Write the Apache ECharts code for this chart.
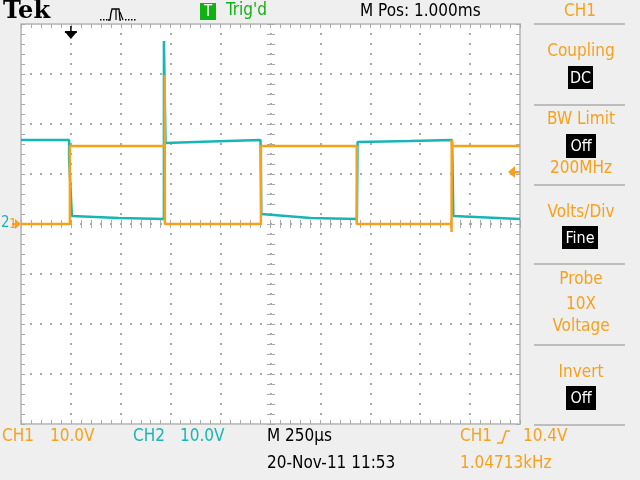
<!DOCTYPE html>
<html><head><meta charset="utf-8">
<script src="https://cdn.jsdelivr.net/npm/echarts@6/dist/echarts.min.js"></script>
<style>html,body{margin:0;padding:0;background:#efefef}#c{width:640px;height:480px}</style>
</head><body><div id="c"></div>
<script>
// Time in microseconds relative to trigger, voltage in volts
const ch1Time = [-250, -5, -5, 470, 470, 471, 952, 952, 1432, 1432, 1907, 1907, 1908, 1911, 2250];
const ch1Volt = [0, 0, 15.6, 15.6, 29.8, 0, 0, 15.6, 15.6, 0, 0, -1.6, 16.8, 15.6, 15.6];
const ch2Time = [-250, -9, -9, -3, 5, 10, 240, 466, 466, 474, 700, 950, 954, 958, 1200, 1433, 1436, 1700, 1909, 1911, 1916, 1922, 2250];
const ch2Volt = [16.8, 16.8, 13.0, 13.0, 1.6, 1.8, 1.2, 1.0, 36.6, 16.2, 16.5, 16.8, 2.0, 1.6, 1.2, 1.0, 16.4, 16.6, 16.8, 14.0, 1.6, 1.8, 1.0];
const xMin = -250, xMax = 2250, xStep = 250;   // 250 us/div
const yMin = -40, yMax = 40, yStep = 10;        // 10 V/div
const triggerLevel = 10.4;
const sideLabels = ['Coupling', 'BW Limit', '200MHz', 'Volts/Div', 'Probe', '10X', 'Voltage', 'Invert'];
const sideBoxes = ['DC', 'Off', 'Fine', 'Off'];

const ORANGE = '#f6a11b', CYAN = '#17b5b6', GREEN = '#12b012';
const GRIDC = '#aaaaaa', BORDER = '#c4c4c4';
const F = "'DejaVu Sans Condensed','Liberation Sans Narrow',sans-serif";

const zip = (a, b) => a.map((v, i) => [v, b[i]]);

function tickCfg(inside) {
  return {
    axisTick: { show: true, inside: inside, length: 4, lineStyle: { color: GRIDC, width: 1 } },
    minorTick: { show: true, splitNumber: 5, length: 4, lineStyle: { color: GRIDC, width: 1 } }
  };
}
function xAx(pos, offset, inside, line, split) {
  return Object.assign({
    type: 'value', min: xMin, max: xMax, interval: xStep, position: pos, offset: offset,
    axisLine: { show: line, onZero: false, lineStyle: { color: BORDER, width: 2 } },
    axisLabel: { show: false },
    splitLine: { show: split, lineStyle: { color: GRIDC, width: 2, type: [2, 8], dashOffset: 1 } }
  }, tickCfg(inside));
}
function yAx(pos, offset, inside, line, split) {
  return Object.assign({
    type: 'value', min: yMin, max: yMax, interval: yStep, position: pos, offset: offset,
    axisLine: { show: line, onZero: false, lineStyle: { color: BORDER, width: 2 } },
    axisLabel: { show: false },
    splitLine: { show: split, lineStyle: { color: GRIDC, width: 2, type: [2, 8], dashOffset: 1 } }
  }, tickCfg(inside));
}

const chart = echarts.init(document.getElementById('c'), null, { renderer: 'canvas' });
chart.setOption({
  animation: false,
  backgroundColor: '#efefef',
  grid: { left: 21, right: 120, top: 24, bottom: 56, show: true, backgroundColor: '#ffffff', borderWidth: 0 },
  xAxis: [
    xAx('bottom', 0, true, true, true),
    xAx('top', 0, true, true, false),
    xAx('bottom', -200, true, false, false),
    xAx('bottom', -200, false, false, false)
  ],
  yAxis: [
    yAx('left', 0, true, true, true),
    yAx('right', 0, true, true, false),
    yAx('left', -250, true, false, false),
    yAx('left', -250, false, false, false)
  ],
  series: [
    { type: 'line', name: 'CH2', data: zip(ch2Time, ch2Volt), showSymbol: false, symbol: 'none',
      lineStyle: { color: CYAN, width: 2.5 }, itemStyle: { color: CYAN }, z: 3 },
    { type: 'line', name: 'CH1', data: zip(ch1Time, ch1Volt), showSymbol: false, symbol: 'none',
      lineStyle: { color: ORANGE, width: 2.5 }, itemStyle: { color: ORANGE }, z: 4 }
  ]
});

const trigX = chart.convertToPixel({ xAxisIndex: 0 }, 0);
const trigY = chart.convertToPixel({ yAxisIndex: 0 }, triggerLevel);
const gndY = chart.convertToPixel({ yAxisIndex: 0 }, 0);

function txt(text, x, y, color, size, align, extra) {
  return Object.assign({ type: 'text', x: x, y: y, z: 100,
    style: { text: text, fill: color, font: (size || 16) + 'px ' + F, align: align || 'left', verticalAlign: 'middle' } }, extra || {});
}
function box(x, y, w, h, text) {
  return [
    { type: 'rect', shape: { x: x, y: y, width: w, height: h }, style: { fill: '#000' }, z: 99 },
    txt(text, x + w / 2, y + h / 2 + 1, '#fff', 16, 'center')
  ];
}
function sep(y) {
  return { type: 'line', shape: { x1: 534, y1: y, x2: 625, y2: y }, style: { stroke: '#bdbdbd', lineWidth: 2 }, z: 99 };
}

const g = [];
// top bar
g.push({ type: 'text', x: 3, y: 12, z: 100, style: { text: 'Tek', fill: '#000', font: 'bold 24px "DejaVu Serif", serif', align: 'left', verticalAlign: 'middle' } });
[100, 103, 106, 125, 128, 131, 134].forEach(px => g.push({ type: 'rect', z: 100, shape: { x: px, y: 19, width: 1.5, height: 1.5 }, style: { fill: '#000' } }));
g.push({ type: 'polyline', z: 100, shape: { points: [[108, 20], [110, 20], [111, 13], [112, 9], [119, 9], [120, 20], [121, 20]] }, style: { stroke: '#000', lineWidth: 1.3, fill: null } });
g.push({ type: 'polyline', z: 100, shape: { points: [[116, 9], [116, 20]] }, style: { stroke: '#000', lineWidth: 1.2 } });
g.push({ type: 'polyline', z: 100, shape: { points: [[120, 12], [123, 20]] }, style: { stroke: '#000', lineWidth: 1.2 } });
g.push({ type: 'rect', z: 99, shape: { x: 200, y: 3, width: 16, height: 17 }, style: { fill: GREEN } });
g.push(txt('T', 208, 12, '#fff', 15, 'center'));
g.push(txt("Trig'd", 226, 11, GREEN, 17));
g.push(txt('M Pos: 1.000ms', 360, 12, '#000', 17));
g.push(txt('CH1', 580, 12, ORANGE, 17, 'center'));
// right panel
[24, 105, 185, 264, 345, 425].forEach(y => g.push(sep(y)));
const labelY = [52, 120, 169, 213, 280, 305, 327, 373];
sideLabels.forEach((s, i) => g.push(txt(s, 581, labelY[i], ORANGE, 17, 'center')));
const bx = [[568, 66, 25, 23], [566, 134, 30, 24], [562, 226, 36, 23], [566, 386, 30, 24]];
sideBoxes.forEach((s, i) => box(bx[i][0], bx[i][1], bx[i][2], bx[i][3], s).forEach(e => g.push(e)));
// bottom bar
g.push(txt('CH1', 2, 437, ORANGE, 17));
g.push(txt('10.0V', 50, 437, ORANGE, 17));
g.push(txt('CH2', 133, 437, CYAN, 17));
g.push(txt('10.0V', 180, 437, CYAN, 17));
g.push(txt('M 250\u00b5s', 267, 437, '#000', 17));
g.push(txt('20-Nov-11 11:53', 267, 464, '#000', 17));
g.push(txt('CH1', 460, 437, ORANGE, 17));
g.push({ type: 'polyline', z: 100, shape: { points: [[497, 443], [502, 443], [506, 431], [510, 431]] }, style: { stroke: ORANGE, lineWidth: 1.5, fill: null } });
g.push(txt('10.4V', 523, 437, ORANGE, 17));
g.push(txt('1.04713kHz', 460, 464, ORANGE, 17));
// trigger position marker (top)
g.push({ type: 'polyline', z: 100, shape: { points: [[trigX, 26], [trigX, 34]] }, style: { stroke: '#000', lineWidth: 1.5 } });
g.push({ type: 'rect', z: 100, shape: { x: trigX - 6, y: 31, width: 12, height: 2 }, style: { fill: '#000' } });
g.push({ type: 'polygon', z: 100, shape: { points: [[trigX - 5, 33], [trigX + 5, 33], [trigX, 39]] }, style: { fill: '#000' } });
// trigger level marker (right)
g.push({ type: 'polygon', z: 100, shape: { points: [[508, trigY], [515, trigY - 6], [515, trigY + 6]] }, style: { fill: ORANGE } });
g.push({ type: 'rect', z: 100, shape: { x: 514, y: trigY - 1, width: 6, height: 2.5 }, style: { fill: ORANGE } });
// ground markers (left)
g.push(txt('2', 1, gndY - 1, CYAN, 15));
g.push(txt('1', 9, gndY, ORANGE, 14));
g.push({ type: 'rect', z: 100, shape: { x: 12, y: gndY - 1, width: 5, height: 2.5 }, style: { fill: ORANGE } });
g.push({ type: 'polygon', z: 100, shape: { points: [[15, gndY - 5], [21, gndY], [15, gndY + 5]] }, style: { fill: ORANGE } });

chart.setOption({ graphic: { elements: g } });
</script></body></html>
